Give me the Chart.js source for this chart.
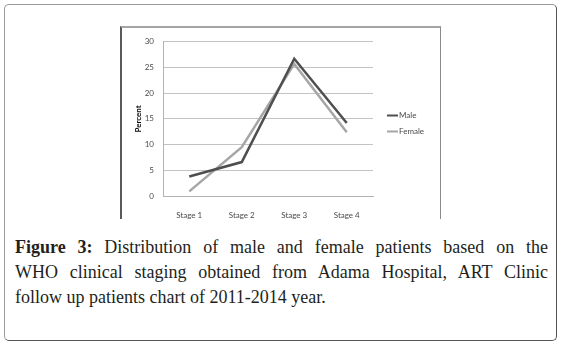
<!DOCTYPE html>
<html>
<head>
<meta charset="utf-8">
<script src="https://cdn.jsdelivr.net/npm/chart.js@4.4.1/dist/chart.umd.min.js"></script>
<style>
    html, body { margin: 0; padding: 0; background: #fff; }
    body { width: 563px; height: 346px; position: relative; overflow: hidden; }
    #box {
        position: absolute; left: 4px; top: 4px; width: 551px; height: 335px;
        border: 1px solid #9a9a9a; border-radius: 5px; border-right-color: #555; border-bottom-color: #555;
    }
    #frame {
        position: absolute; left: 120px; top: 26px; width: 318px; height: 191px;
        border-left: 2px solid #5a5a5a; border-top: 2px solid #a5a5a5; border-right: 1px solid #8a8a8a;
    }
    #frame canvas { position: absolute; left: 0; top: 0; }
    #caption {
        position: absolute; left: 15px; top: 235px; width: 533px;
        font-family: "Liberation Serif", serif; font-size: 18px; line-height: 25px; color: #231f20;
    }
    #caption div { text-align: justify; text-align-last: justify; white-space: nowrap; }
    #caption div.last { text-align-last: left; }
</style>
</head>
<body>
<div id="box"></div>
<div id="frame"><canvas id="c" width="318" height="191"></canvas></div>
<div id="caption">
    <div style="white-space: normal"><b>Figure 3:</b> Distribution of male and female patients based on the</div>
    <div style="white-space: normal">WHO clinical staging obtained from Adama Hospital, ART Clinic</div>
    <div class="last">follow up patients chart of 2011-2014 year.</div>
</div>
<script>
var stages = ["Stage 1", "Stage 2", "Stage 3", "Stage 4"];
var male = [3.8, 6.6, 26.7, 14.2];
var female = [0.9, 9.5, 25.7, 12.4];
var yTicks = [0, 5, 10, 15, 20, 25, 30];

// small legend to the right of the plot, line sample + label
var sideLegend = {
    id: "sideLegend",
    afterDraw: function (chart) {
        var ctx = chart.ctx;
        var x0 = chart.chartArea.right + 14;
        var mid = chart.height / 2;
        ctx.save();
        ctx.font = "8px Lato";
        ctx.textBaseline = "middle";
        chart.data.datasets.forEach(function (ds, i) {
            var y = mid - 8 + i * 16;
            ctx.strokeStyle = ds.borderColor;
            ctx.lineWidth = 2;
            ctx.beginPath();
            ctx.moveTo(x0, y);
            ctx.lineTo(x0 + 11, y);
            ctx.stroke();
            ctx.fillStyle = "#4a4a4a";
            ctx.fillText(ds.label, x0 + 12, y);
        });
        ctx.restore();
    }
};

new Chart(document.getElementById("c"), {
    type: "line",
    data: {
        labels: stages,
        datasets: [
            { label: "Male", data: male, borderColor: "#4f4f4f", borderWidth: 2.5, pointRadius: 0, tension: 0 },
            { label: "Female", data: female, borderColor: "#a6a6a6", borderWidth: 2.5, pointRadius: 0, tension: 0 }
        ]
    },
    options: {
        responsive: false,
        animation: false,
        layout: { padding: { left: 8, right: 67, top: 10.5, bottom: 0 } },
        plugins: { legend: { display: false }, tooltip: { enabled: false } },
        scales: {
            x: {
                offset: true,
                grid: { display: false },
                border: { display: true, color: "#b3b3b3", width: 1 },
                ticks: { color: "#4a4a4a", font: { family: "Lato", size: 8 }, padding: 7, maxRotation: 0 },
                afterFit: function (s) { s.height = 23; }
            },
            y: {
                min: 0,
                max: 30,
                afterBuildTicks: function (s) { s.ticks = yTicks.map(function (v) { return { value: v }; }); },
                grid: { color: "#c3c3c3", drawTicks: false },
                border: { display: true, color: "#b3b3b3", width: 1 },
                ticks: { color: "#4a4a4a", font: { family: "Lato", size: 8 }, padding: 9 },
                title: { display: true, text: "Percent", color: "#000", font: { family: "Lato", size: 8, weight: "bold" }, padding: 4 },
                afterFit: function (s) { s.width = 33; }
            }
        }
    },
    plugins: [sideLegend]
});
</script>
</body>
</html>
